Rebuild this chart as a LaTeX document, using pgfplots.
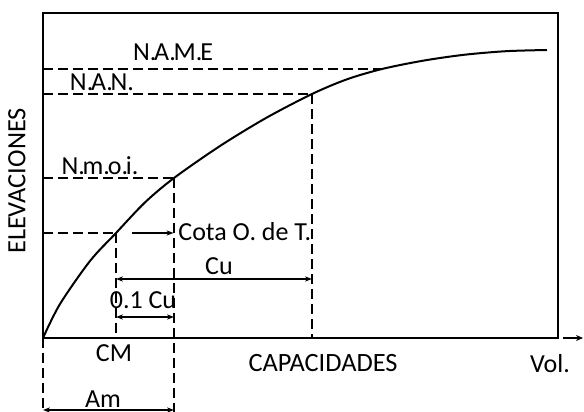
\documentclass[border=0pt]{standalone}
\usepackage{pgfplots}
\pgfplotsset{compat=1.18}
\usepackage{fontspec}
\setmainfont{Carlito}
\usetikzlibrary{arrows.meta}
\newcommand{\p}{.\kern-1.1pt}
\begin{document}
\begin{tikzpicture}[
  dsh/.style={line width=0.6pt, dash pattern=on 5pt off 2.5pt},
  arr/.style={line width=0.6pt, -{Stealth[length=3.5pt,width=2.6pt]}},
  darr/.style={line width=0.6pt, {Stealth[length=3.5pt,width=2.6pt]}-{Stealth[length=3.5pt,width=2.6pt]}},
  lab/.style={inner sep=0pt, font=\fontsize{13}{15}\selectfont}
]
\begin{axis}[
  x=0.5pt, y=0.5pt,
  xmin=0, xmax=515, ymin=0, ymax=325,
  xtick=\empty, ytick=\empty,
  axis line style={line width=0.8pt},
  clip=false,
  label style={font=\fontsize{13.2}{15}\selectfont, inner sep=0pt},
  xlabel={CAPACIDADES}, ylabel={ELEVACIONES},
  xlabel style={at={(axis description cs:0.5437,-0.0769)}, anchor=center},
  ylabel style={at={(axis description cs:-0.0505,0.483)}, anchor=center},
]
% main curve
\addplot[line width=1pt, smooth, tension=0.5] coordinates {
  (0,0) (17,34) (47,77) (73,105) (102,135.6) (131,160) (177,192) (223,220)
  (269,244) (304,258.7) (339,269) (380,277.3) (421,283.2) (463,286.8) (504,288)
};
% horizontal dashed levels
\addplot[dsh] coordinates {(0,269) (339,269)};
\addplot[dsh] coordinates {(0,244) (269,244)};
\addplot[dsh] coordinates {(0,160) (131,160)};
\addplot[dsh] coordinates {(0,105) (73,105)};
% vertical dashed lines
\addplot[dsh] coordinates {(73,105) (73,0)};
\addplot[dsh] coordinates {(131,160) (131,-74)};
\addplot[dsh] coordinates {(269,244) (269,0)};
\addplot[dsh] coordinates {(0,0) (0,-74)};
% arrows
\draw[arr] (axis cs:89,105) -- (axis cs:130.5,105);
\draw[darr] (axis cs:73,59) -- (axis cs:269,59);
\draw[darr] (axis cs:73,21) -- (axis cs:131,21);
\draw[darr] (axis cs:0,-72) -- (axis cs:131,-72);
\draw[line width=0.8pt, -{Stealth[length=3.5pt,width=3pt]}] (axis cs:520,0) -- (axis cs:540,0);
% labels
\node[lab] at (axis cs:130,286) {N\p A\p M\p E};
\node[lab] at (axis cs:59,256) {N\p A\p N.};
\node[lab] at (axis cs:57,172) {N\p m\p o\p i.};
\node[lab, anchor=west] at (axis cs:135,106) {Cota O. de T.};
\node[lab] at (axis cs:176,72) {Cu};
\node[lab] at (axis cs:100,38) {0.1 Cu};
\node[lab] at (axis cs:71,-15) {CM};
\node[lab] at (axis cs:60,-61) {Am};
\node[lab] at (axis cs:507,-26) {Vol.};
% bounding box corners
\coordinate (bbsw) at (axis cs:-43,-74);
\coordinate (bbne) at (axis cs:541,338);
\end{axis}
\pgfresetboundingbox
\path[use as bounding box] (bbsw) rectangle (bbne);
\end{tikzpicture}
\end{document}
